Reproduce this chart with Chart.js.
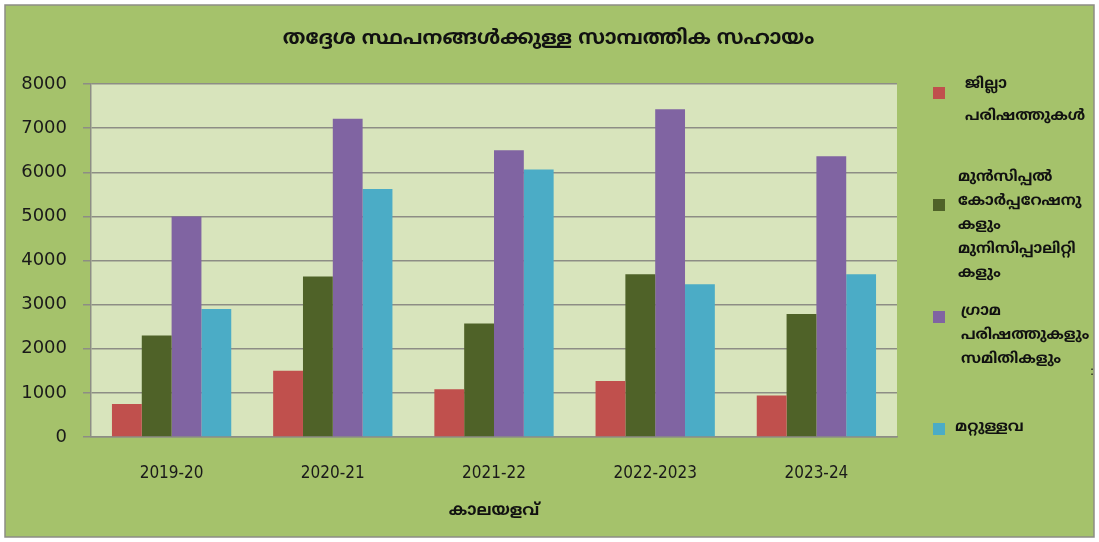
<!DOCTYPE html>
<html>
<head>
<meta charset="utf-8">
<script src="https://cdn.jsdelivr.net/npm/chart.js@4.4.1/dist/chart.umd.min.js"></script>
<style>
  html, body { margin: 0; padding: 0; background: #fff; }
  canvas { display: block; }
</style>
</head>
<body>
<canvas id="sahayamChart" width="1099" height="542"></canvas>
<script>
// data
const years = ["2019-20", "2020-21", "2021-22", "2022-2023", "2023-24"];
const jillaParishath = [750, 1500, 1080, 1270, 940];
const municipalities = [2300, 3640, 2570, 3690, 2790];
const gramaParishath = [5000, 7210, 6500, 7430, 6360];
const mattullava = [2900, 5620, 6060, 3460, 3690];
const yTicks = [0, 1000, 2000, 3000, 4000, 5000, 6000, 7000, 8000];

const chartTitle = "തദ്ദേശ സ്ഥപനങ്ങൾക്കുള്ള സാമ്പത്തിക സഹായം";
const xTitle = "കാലയളവ്";
const seriesNames = [
  ["ജില്ലാ", "പരിഷത്തുകൾ"],
  ["മുൻസിപ്പൽ", "കോർപ്പറേഷനു", "കളും", "മുനിസിപ്പാലിറ്റി", "കളും"],
  ["ഗ്രാമ", "പരിഷത്തുകളും", "സമിതികളും"],
  ["മറ്റുള്ളവ"]
];
const colors = ["#c0504d", "#4f6228", "#8064a2", "#4bacc6"];

const mlFont = "'Noto Sans Malayalam', 'Noto Sans', 'DejaVu Sans', sans-serif";

// where each legend entry sits (box centre y, first text line y, line gap, text x)
const legendPos = [
  { box: 93, top: 85, gap: 32, x: 965 },
  { box: 205, top: 178, gap: 24, x: 958 },
  { box: 317, top: 312, gap: 24, x: 961 },
  { box: 429, top: 428, gap: 0, x: 955 }
];

// background panels
const panels = {
  id: "panels",
  beforeDraw(chart) {
    const { ctx, chartArea: a } = chart;
    ctx.save();
    ctx.fillStyle = "#ffffff";
    ctx.fillRect(0, 0, chart.width, chart.height);
    ctx.fillStyle = "#a5c26b";
    ctx.fillRect(5, 5, chart.width - 10, chart.height - 10);
    ctx.strokeStyle = "#8d8d85";
    ctx.lineWidth = 1.5;
    ctx.strokeRect(5, 5, chart.width - 10, chart.height - 10);
    ctx.fillStyle = "#d8e4bc";
    ctx.fillRect(a.left, a.top, a.right - a.left, a.bottom - a.top);
    ctx.restore();
  }
};

// title + multi-line legend, drawn by hand
const textBits = {
  id: "textBits",
  afterDraw(chart) {
    const { ctx } = chart;
    ctx.save();
    ctx.fillStyle = "#111";
    ctx.textBaseline = "middle";
    ctx.textAlign = "center";
    ctx.font = "bold 20px " + mlFont;
    ctx.fillText(chartTitle, chart.width / 2 - 1, 40);

    ctx.textAlign = "left";
    ctx.font = "bold 15px " + mlFont;
    chart.data.datasets.forEach((ds, i) => {
      const p = legendPos[i];
      ctx.fillStyle = ds.backgroundColor;
      ctx.fillRect(933, p.box - 6, 12, 12);
      ctx.fillStyle = "#111";
      ds.label.forEach((line, j) => ctx.fillText(line, p.x, p.top + j * p.gap));
    });
    ctx.font = "12px 'DejaVu Sans', sans-serif";
    ctx.fillText(":", 1090, 372);
    ctx.restore();
  }
};

const seriesData = [jillaParishath, municipalities, gramaParishath, mattullava];

new Chart(document.getElementById("sahayamChart"), {
  type: "bar",
  data: {
    labels: years,
    datasets: seriesData.map((vals, i) => ({
      label: seriesNames[i],
      data: vals,
      backgroundColor: colors[i],
      borderWidth: 0,
      categoryPercentage: 0.74,
      barPercentage: 1.0
    }))
  },
  options: {
    responsive: false,
    animation: false,
    layout: { padding: { left: 10, right: 202, top: 84, bottom: 0 } },
    plugins: {
      legend: { display: false },
      title: { display: false },
      tooltip: { enabled: false }
    },
    scales: {
      x: {
        afterFit: s => { s.height = 105; },
        grid: { display: false },
        border: { display: true, color: "#8d8d85", width: 1.5 },
        ticks: {
          padding: 18,
          color: "#1a1a1a",
          font: { family: "'DejaVu Sans Condensed', 'DejaVu Sans', sans-serif", size: 17 }
        },
        title: {
          display: true,
          text: xTitle,
          color: "#111",
          font: { family: mlFont, size: 16, weight: "bold" },
          padding: { top: 0, bottom: 20 }
        }
      },
      y: {
        min: 0,
        max: 8000,
        afterFit: s => { s.width = 81; },
        afterBuildTicks: s => { s.ticks = yTicks.map(v => ({ value: v })); },
        grid: { color: "#8d8d85", lineWidth: 1.5, tickLength: 8 },
        border: { display: true, color: "#8d8d85", width: 1.5 },
        ticks: {
          padding: 16,
          color: "#1a1a1a",
          font: { family: "'DejaVu Sans', sans-serif", size: 18 },
          callback: v => String(v)
        }
      }
    }
  },
  plugins: [panels, textBits]
});
</script>
</body>
</html>
